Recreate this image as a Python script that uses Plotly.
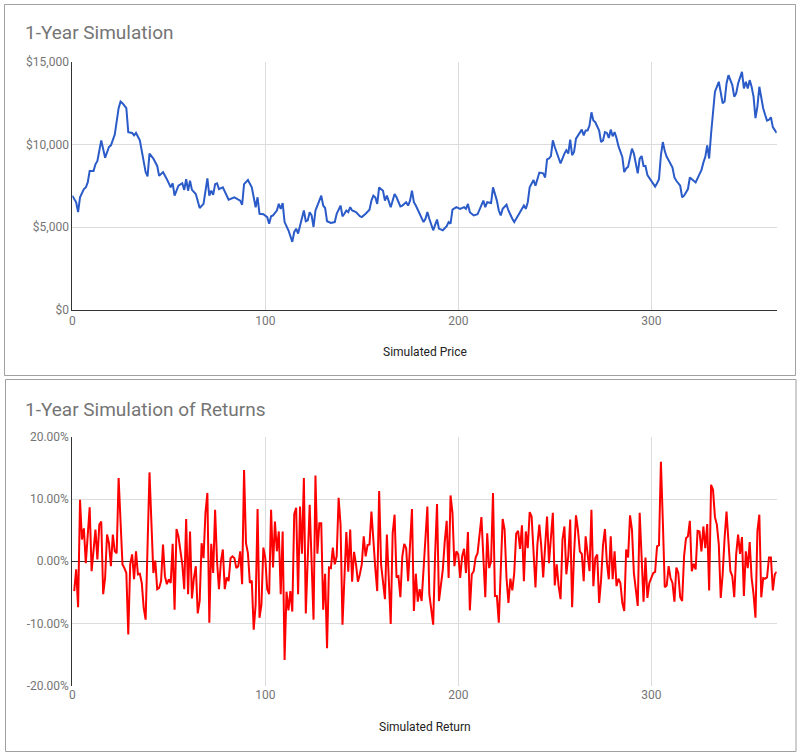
import plotly.graph_objects as go

# ---------------- data ----------------
price_days = [0, 2, 3, 4, 6, 7, 8, 9, 11, 12, 13, 15, 17, 19, 20, 21, 22, 24, 25, 26,
              28, 29, 31, 32, 33, 35, 36, 38, 39, 40, 42, 44, 45, 47, 49, 51, 52, 53, 55, 57,
              58, 59, 60, 61, 62, 64, 66, 68, 70, 71, 72, 73, 74, 75, 76, 78, 81, 84, 87, 88,
              89, 91, 93, 95, 96, 97, 99, 101, 102, 103, 104, 106, 107, 108, 109, 110, 112, 114, 115, 116,
              117, 118, 120, 121, 122, 123, 124, 125, 126, 127, 129, 130, 131, 132, 134, 136, 137, 139, 140, 141,
              142, 143, 144, 145, 147, 149, 150, 152, 154, 155, 156, 157, 158, 159, 161, 162, 163, 165, 166, 167,
              168, 170, 171, 173, 174, 175, 176, 177, 178, 180, 182, 183, 184, 185, 187, 189, 190, 192, 194, 195,
              196, 197, 199, 201, 203, 204, 205, 206, 208, 210, 211, 213, 214, 215, 217, 218, 220, 221, 222, 223,
              225, 226, 228, 229, 231, 233, 234, 235, 236, 237, 239, 240, 241, 242, 244, 245, 246, 247, 248, 249,
              250, 251, 253, 255, 256, 257, 258, 259, 260, 261, 263, 264, 265, 266, 267, 268, 269, 270, 271, 273,
              274, 275, 276, 277, 278, 279, 280, 281, 282, 283, 285, 286, 287, 288, 290, 291, 292, 293, 294, 295,
              296, 297, 298, 300, 301, 302, 303, 304, 305, 306, 307, 308, 309, 311, 312, 313, 315, 316, 317, 319,
              320, 321, 322, 323, 325, 326, 327, 328, 329, 330, 331, 332, 333, 335, 336, 337, 338, 339, 340, 341,
              342, 343, 344, 345, 346, 347, 348, 349, 350, 351, 352, 353, 354, 355, 356, 357, 358, 359, 360, 361,
              362, 363, 365]
price_values = [6900, 6500, 5900, 6800, 7300, 7400, 7700, 8400, 8400, 8800, 9000, 10250, 9200, 9850, 9950, 10350, 10600, 12200, 12600, 12500,
                12200, 10750, 10700, 10550, 10700, 10250, 9650, 8330, 8070, 9450, 9150, 8700, 8100, 8330, 7900, 7400, 7650, 6900, 7500, 7650,
                7250, 7900, 7200, 7800, 7250, 7000, 6150, 6400, 7950, 6900, 7200, 6950, 7600, 7650, 7300, 7400, 6650, 6800, 6600, 6350,
                7600, 7850, 7400, 6200, 6800, 5800, 5770, 5600, 5200, 5650, 5700, 6000, 6400, 6100, 6450, 5300, 4800, 4100, 4700, 4900,
                4600, 5100, 6000, 5350, 5400, 5900, 5700, 5000, 6000, 6300, 6900, 6300, 6150, 5350, 5250, 5300, 5800, 6300, 5650, 5800,
                6000, 5900, 6200, 6000, 5900, 5650, 5600, 5800, 6050, 6600, 6900, 6800, 6400, 7400, 7200, 6600, 6900, 6200, 6650, 7000,
                6800, 6250, 6300, 6500, 6300, 6600, 7200, 6500, 6300, 5800, 5300, 5500, 5900, 5500, 4800, 5450, 4900, 4800, 5050, 5300,
                5200, 6050, 6200, 6100, 6200, 6100, 6400, 5900, 5700, 5770, 6050, 6600, 6200, 6500, 6450, 7400, 6600, 6000, 5700, 6100,
                6350, 6000, 5500, 5300, 5700, 6050, 6300, 6100, 6500, 7400, 7850, 7500, 7900, 8300, 8250, 8000, 9100, 9150, 9300, 10250,
                9850, 9550, 8850, 9450, 9650, 9450, 10300, 9350, 9550, 10350, 10750, 10900, 10550, 10850, 10850, 11150, 11950, 11450, 11350, 10850,
                10150, 10250, 10750, 10700, 10400, 10900, 10500, 10750, 10400, 9900, 9250, 8330, 8550, 8650, 9750, 9450, 8850, 8250, 9150, 9300,
                8700, 8700, 8150, 7800, 7600, 7450, 7650, 7900, 9350, 10150, 9600, 9250, 9050, 8600, 8000, 7800, 7500, 6800, 6900, 7300,
                8000, 7900, 7800, 7700, 8200, 8450, 8900, 9250, 9950, 9150, 10650, 11950, 13200, 13800, 13100, 12500, 12600, 13700, 14200, 13900,
                13600, 12900, 13100, 13700, 14000, 14400, 13400, 13800, 13400, 13900, 13500, 12900, 11600, 12300, 13500, 12700, 12200, 11800, 11450, 11500,
                11650, 11050, 10700]

price_tick_vals = [0, 5000, 10000, 15000]
price_tick_text = ["$0", "$5,000", "$10,000", "$15,000"]

ret_days = [1, 2, 3, 4, 5, 6, 7, 9, 10, 12, 13, 14, 15, 16, 17, 18, 19, 20, 21, 22,
            23, 24, 25, 26, 27, 28, 29, 30, 31, 32, 33, 34, 35, 36, 37, 38, 40, 42, 43, 44,
            45, 46, 47, 48, 49, 50, 51, 52, 53, 54, 55, 57, 58, 59, 60, 61, 62, 63, 64, 65,
            66, 67, 68, 69, 70, 71, 72, 73, 74, 75, 76, 77, 78, 79, 80, 81, 82, 83, 84, 85,
            86, 87, 88, 89, 90, 91, 92, 93, 94, 95, 96, 97, 98, 99, 100, 101, 102, 103, 104, 105,
            106, 107, 108, 109, 110, 111, 112, 113, 114, 115, 116, 117, 118, 119, 120, 121, 123, 125, 126, 127,
            128, 129, 130, 131, 132, 133, 134, 135, 136, 137, 138, 139, 140, 141, 142, 143, 144, 145, 146, 147,
            148, 149, 150, 151, 152, 153, 154, 155, 156, 157, 158, 159, 160, 161, 162, 163, 164, 165, 166, 167,
            168, 169, 170, 171, 172, 173, 174, 176, 177, 178, 179, 180, 181, 182, 183, 184, 185, 186, 187, 188,
            189, 190, 191, 192, 193, 194, 195, 196, 197, 198, 199, 200, 201, 202, 203, 204, 205, 206, 207, 208,
            209, 210, 212, 213, 214, 215, 216, 217, 218, 219, 220, 221, 222, 223, 224, 225, 226, 227, 228, 229,
            230, 231, 232, 233, 234, 235, 236, 237, 238, 239, 240, 241, 242, 243, 244, 245, 246, 247, 248, 249,
            250, 251, 252, 253, 254, 255, 256, 257, 258, 259, 260, 261, 262, 263, 264, 265, 266, 267, 268, 269,
            270, 271, 272, 273, 274, 275, 276, 277, 278, 279, 280, 281, 282, 283, 284, 285, 286, 287, 288, 289,
            290, 291, 292, 293, 294, 295, 296, 297, 298, 299, 300, 301, 302, 303, 304, 305, 306, 307, 308, 309,
            310, 311, 312, 313, 314, 315, 316, 317, 318, 319, 320, 321, 322, 323, 324, 325, 326, 327, 328, 329,
            330, 331, 332, 333, 334, 335, 336, 337, 338, 339, 340, 341, 342, 343, 344, 345, 346, 347, 348, 349,
            350, 351, 352, 353, 354, 355, 356, 357, 358, 359, 360, 361, 362, 363, 364, 365]
ret_pct = [-4.8, -1.3, -7.4, 9.9, 3.5, 5.3, -0.3, 8.7, -1.6, 5.1, 0.3, 5.9, 6.4, -5.3, -2.7, 4.3, 2.9, -0.8, 4.3, 1.6,
           1.3, 13.4, 6.4, -0.5, -1.1, -1.9, -11.8, -0.5, 1.1, -2.9, 1.6, -2.1, -2.0, -3.5, -7.5, -9.4, 14.3, -1.9, 0.1, -4.5,
           -4.3, -3.2, 2.7, -2.4, -3.7, -2.9, -3.5, 2.8, -7.8, 5.2, 4.0, -0.5, -4.5, 6.8, -5.3, 4.8, -6.0, -2.7, -0.8, -8.4,
           -6.4, 2.9, 0.5, 7.8, 11.0, -9.9, 2.8, -1.9, 8.3, 0.0, -4.5, 0.0, 1.9, -4.5, -2.6, -3.2, 0.5, 0.8, 0.5, -1.1,
           -0.8, 1.6, -3.7, 14.7, 2.9, 1.3, -3.5, -3.1, -11.0, -7.0, 8.4, -9.1, -7.0, 2.2, 0.5, -4.5, -5.3, 8.3, -1.0, 6.4,
           1.6, 4.8, -5.3, 4.8, -15.9, -4.9, -7.9, -4.8, -8.1, 7.6, 8.6, -5.3, 8.8, 1.2, 13.4, -8.4, 9.1, -9.4, 13.8, 1.2,
           6.1, 6.1, -7.8, -2.0, -14.0, -1.0, -1.1, 2.2, -0.5, 0.8, 10.2, 5.9, -10.2, -1.1, 4.7, -1.7, 5.1, -3.3, 1.5, -0.5,
           -3.3, -2.1, -0.5, 4.0, 0.8, 2.6, 2.7, 8.0, 2.7, -1.1, -4.8, 11.3, -0.5, -3.5, -6.1, 4.3, -2.1, -10.1, 4.5, 7.5,
           -2.6, -2.4, -5.8, 0.8, 2.8, 2.1, -3.2, 8.4, -8.0, -2.0, -6.5, -4.5, -6.4, -1.9, 3.6, 8.8, -5.3, -7.8, -10.2, 1.1,
           9.2, -6.4, -3.7, -1.3, 3.2, 6.5, -2.7, 10.6, 7.8, -0.8, 1.6, 1.1, -2.7, 0.8, 2.0, -1.9, 4.7, -7.9, -2.1, -1.6,
           0.6, 1.3, 7.1, 1.6, -5.8, 4.5, -1.1, 0.0, 11.0, -5.6, -5.6, -9.9, -2.1, 6.8, 5.1, -2.7, -6.7, -2.8, -4.7, -1.9,
           4.4, 4.9, 2.0, 5.8, -3.2, 4.8, 2.1, 7.9, 7.2, 2.1, -4.2, 2.7, 5.9, 2.4, -2.6, 2.4, 7.2, -0.3, 3.5, 7.8,
           -3.9, -0.5, -4.0, -6.1, 3.5, 5.6, -2.1, 0.8, 6.7, -7.4, 1.1, 7.4, 5.1, 1.6, 1.2, -3.2, 4.0, 1.6, -1.6, 8.3,
           -4.0, 0.5, 1.1, -6.7, -3.0, 2.6, 5.2, -0.2, -2.9, 4.0, -2.9, 1.6, -4.0, -2.8, -3.5, -6.7, -8.0, 1.9, 0.6, 7.4,
           5.1, -1.9, -4.3, -7.2, 7.8, 1.1, -6.5, 0.6, -5.9, -3.5, -2.8, -1.9, -1.7, 2.4, 2.6, 16.0, 6.4, -4.2, -3.9, -0.8,
           -2.7, -3.5, -6.5, -1.0, -1.9, -5.8, -6.4, 0.8, 3.7, 4.0, 6.5, -1.6, -0.4, -1.3, 4.9, 4.8, 1.6, 5.6, 2.1, 6.0,
           -4.7, 12.3, 11.5, 7.1, 5.9, 2.7, -5.9, -2.1, 3.7, 8.0, 3.2, -1.6, -2.4, -5.8, 1.1, 4.3, 1.2, 3.9, -5.6, 1.6,
           -1.1, 3.1, -2.7, -5.3, -9.1, 4.8, 7.5, -5.8, -2.7, -2.8, -2.6, 0.6, 0.6, -4.7, -2.1, -1.7]

ret_tick_vals = [-20, -10, 0, 10, 20]
ret_tick_text = ["-20.00%", "-10.00%", "0.00%", "10.00%", "20.00%"]

x_tick_vals = [0, 100, 200, 300]

# ---------------- figure ----------------
W, H = 800, 754
def px(x):
    return x / W
def py(y):
    return 1 - y / H

FONT = "Roboto, Arial, sans-serif"
GRID = "#dcdcdc"
TICKC = "#757575"
AXIS = "#333333"

fig = go.Figure()
fig.add_trace(go.Scatter(x=price_days, y=price_values, mode="lines",
                         line=dict(color="#2a5bc8", width=2),
                         xaxis="x", yaxis="y", hoverinfo="skip"))
fig.add_trace(go.Scatter(x=ret_days, y=ret_pct, mode="lines",
                         line=dict(color="#ff0000", width=2),
                         xaxis="x2", yaxis="y2", hoverinfo="skip"))

xdom = [px(72.3), px(776.7)]
common_x = dict(range=[0, 365], tickvals=x_tick_vals, showgrid=True, gridcolor=GRID,
                gridwidth=1, zeroline=False, ticks="", fixedrange=True,
                tickfont=dict(family=FONT, size=12, color=TICKC))
common_y = dict(showgrid=True, gridcolor=GRID, gridwidth=1, ticks="",
                showline=True, linecolor=AXIS, linewidth=1, fixedrange=True,
                tickfont=dict(family=FONT, size=12, color=TICKC))

fig.update_layout(
    autosize=True,
    margin=dict(l=0, r=0, t=0, b=0, autoexpand=False),
    paper_bgcolor="white", plot_bgcolor="white",
    showlegend=False,
    font=dict(family=FONT),
    xaxis=dict(domain=xdom, anchor="y", showline=True, linecolor=AXIS, linewidth=1, **common_x),
    yaxis=dict(domain=[py(309.5), py(62)], anchor="x", range=[0, 15000],
               tickvals=price_tick_vals, ticktext=price_tick_text, zeroline=False, **common_y),
    xaxis2=dict(domain=xdom, anchor="y2", showline=False, **common_x),
    yaxis2=dict(domain=[py(685.5), py(437)], anchor="x2", range=[-20, 20],
                tickvals=ret_tick_vals, ticktext=ret_tick_text,
                zeroline=True, zerolinecolor=AXIS, zerolinewidth=1, **common_y),
    shapes=[
        dict(type="rect", xref="paper", yref="paper", x0=px(4.5), x1=px(795.5), y0=py(375.5), y1=py(4.5),
             line=dict(color="#a0a0a0", width=1), fillcolor="rgba(0,0,0,0)", layer="below"),
        dict(type="rect", xref="paper", yref="paper", x0=px(5.5), x1=px(796), y0=py(751.5), y1=py(379.5),
             line=dict(color="#a0a0a0", width=1), fillcolor="rgba(0,0,0,0)", layer="below"),
    ],
    annotations=[
        dict(text="1-Year Simulation", xref="paper", yref="paper", x=px(23), y=py(33),
             xanchor="left", yanchor="middle", showarrow=False,
             font=dict(family=FONT, size=19, color="#757575")),
        dict(text="1-Year Simulation of Returns", xref="paper", yref="paper", x=px(23), y=py(409),
             xanchor="left", yanchor="middle", showarrow=False,
             font=dict(family=FONT, size=19, color="#757575")),
        dict(text="Simulated Price", xref="paper", yref="paper", x=px(424.5), y=py(352),
             xanchor="center", yanchor="middle", showarrow=False,
             font=dict(family=FONT, size=12, color="#222222")),
        dict(text="Simulated Return", xref="paper", yref="paper", x=px(424.5), y=py(727),
             xanchor="center", yanchor="middle", showarrow=False,
             font=dict(family=FONT, size=12, color="#222222")),
    ],
)

fig.write_html(
    "out.html",
    config={"displayModeBar": False, "responsive": True},
    default_width="100vw",
    default_height="100vh",
    post_script=(
        "document.documentElement.style.margin='0';"
        "document.documentElement.style.overflow='hidden';"
        "document.body.style.margin='0';document.body.style.padding='0';"
        "document.body.style.overflow='hidden';"
        "var gd=document.getElementById('{plot_id}');"
        "gd.style.position='fixed';gd.style.left='0px';gd.style.top='0px';"
        "gd.style.width='100vw';gd.style.height='100vh';"
        "Plotly.Plots.resize(gd);"
    ),
)
